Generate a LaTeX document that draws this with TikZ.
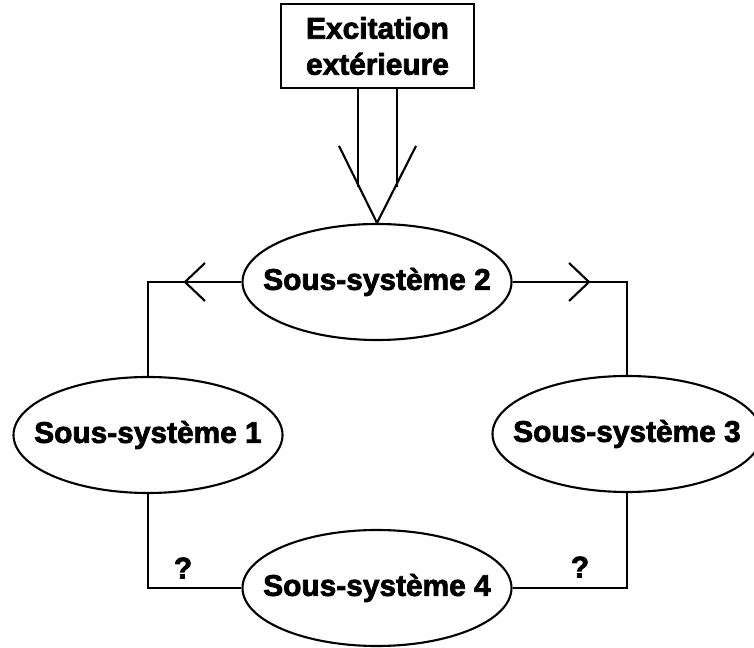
\documentclass[tikz,border=0pt]{standalone}
\usepackage{fontspec}
\setmainfont{Liberation Sans}[BoldFeatures={FakeBold=2.5}]
\usetikzlibrary{shapes.geometric,arrows.meta,decorations.markings,calc}

\begin{document}
\begin{tikzpicture}[line width=1.2pt,
    every node/.style={font=\bfseries\fontsize{17}{20.5}\selectfont},
    sys/.style={draw, ellipse, inner xsep=-0.5cm, inner ysep=0pt, minimum width=5.38cm, minimum height=2.32cm},
    extbox/.style={draw, rectangle, align=center, inner sep=0pt, minimum width=3.86cm, minimum height=1.68cm},
    barbl/.style={postaction={decorate}, decoration={markings,
        mark=at position 1.16cm with {\arrow{Straight Barb[length=0.4cm,width=0.76cm]}}}},
    barbr/.style={postaction={decorate}, decoration={markings,
        mark=at position 1.56cm with {\arrow{Straight Barb[length=0.4cm,width=0.76cm]}}}}]
    \useasboundingbox (0,0) rectangle (15.08,12.94);
    \node[extbox] (ext) at (7.55,12.02) {Excitation\\extérieure};
    \node[sys] (S2) at (7.54,7.30) {Sous-système 2};
    \node[sys] (S1) at (2.96,4.24) {Sous-système 1};
    \node[sys] (S3) at (12.54,4.26) {Sous-système 3};
    \node[sys] (S4) at (7.54,1.18) {Sous-système 4};
    \node (q1) at (3.66,1.58) {?};
    \node (q3) at (11.60,1.60) {?};
    \coordinate (tip) at (S2.north);
    \draw ($(ext.south)+(-0.39,0)$) -- ++(0,-1.96);
    \draw ($(ext.south)+(0.39,0)$) -- ++(0,-1.96);
    \draw ($(tip)+(-0.76,1.54)$) -- (tip) -- ($(tip)+(0.78,1.54)$);
    \draw[barbl] (S2.west) -| (S1.north);
    \draw[barbr] (S2.east) -| (S3.north);
    \draw (S1.south) |- (S4.west);
    \draw (S3.south) |- (S4.east);
\end{tikzpicture}
\end{document}
